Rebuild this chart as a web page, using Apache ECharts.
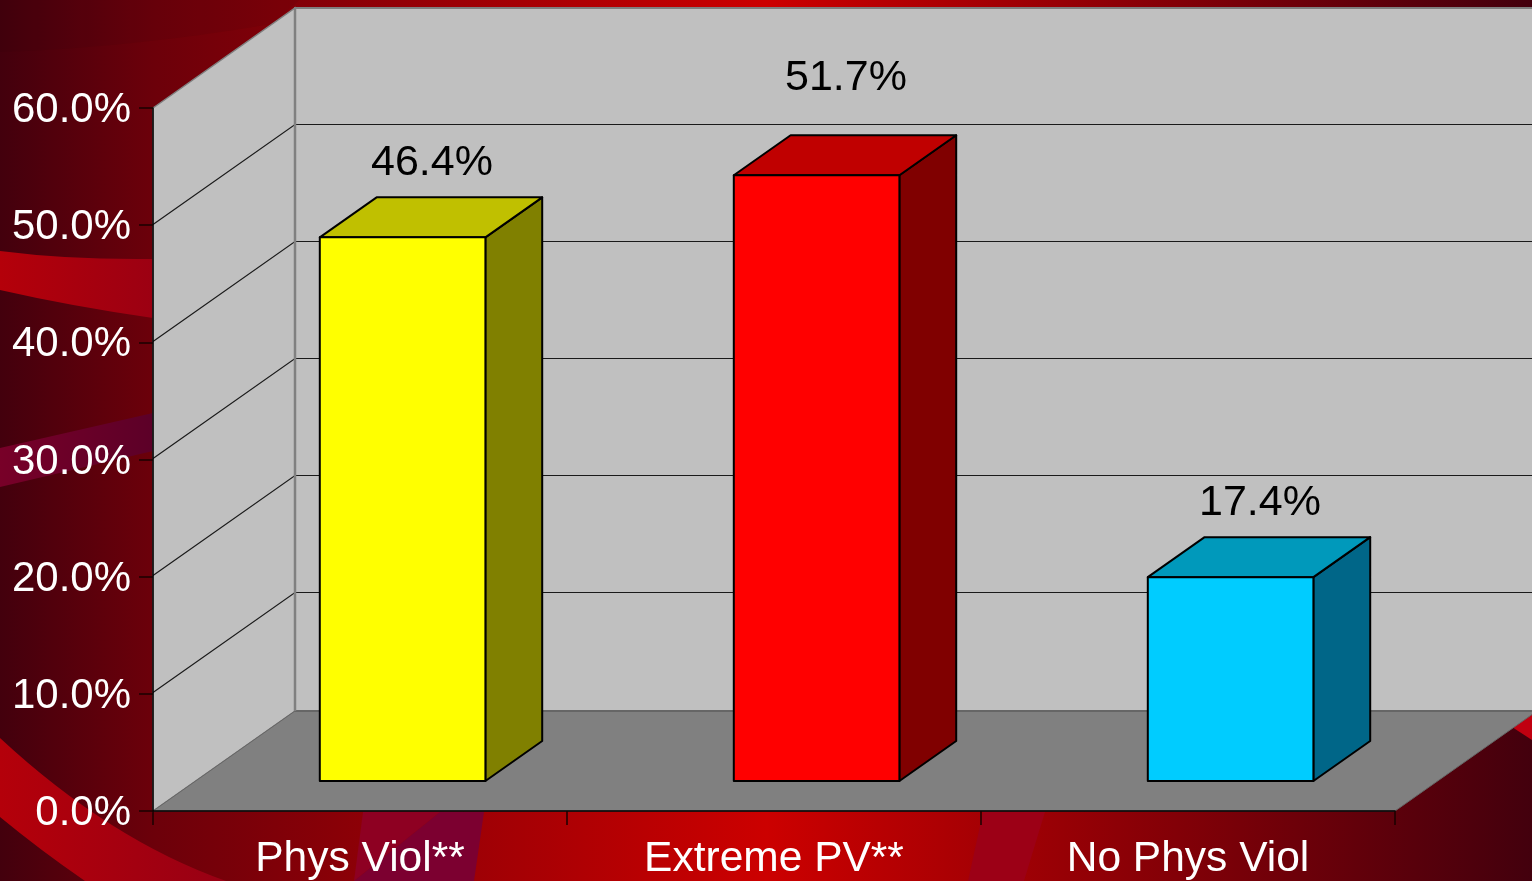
<!DOCTYPE html>
<html>
<head>
<meta charset="utf-8">
<title>Physical violence chart</title>
<script src="https://cdn.jsdelivr.net/npm/echarts@6/dist/echarts.min.js"></script>
<style>
  html, body { margin: 0; padding: 0; background: #43000d; overflow: hidden; }
  #chart { width: 1532px; height: 881px; }
</style>
</head>
<body>
<div id="chart"></div>
<script>
// data
const categories = ['Phys Viol**', 'Extreme PV**', 'No Phys Viol'];
const values = [46.4, 51.7, 17.4];
const yTicks = [0, 10, 20, 30, 40, 50, 60];

// bar colours: front, top, side
const frontColors = ['#ffff00', '#ff0000', '#00ccff'];
const topColors = ['#c0c000', '#c00000', '#0099bb'];
const sideColors = ['#808000', '#800000', '#006688'];

// 3d box depth
const DEPTH_X = 142;
const DEPTH_Y = -100;
const labelLift = [0, 23, 0];

const chart = echarts.init(document.getElementById('chart'));

// slide background swooshes
function renderBackground() {
    return {
        type: 'group',
        children: [
            {
                type: 'rect',
                shape: { x: 0, y: 0, width: 1532, height: 881 },
                style: {
                    fill: new echarts.graphic.LinearGradient(0, 0, 1, 0, [
                        { offset: 0, color: '#43000d' },
                        { offset: 0.1, color: '#6c000a' },
                        { offset: 0.5, color: '#cc0000' },
                        { offset: 1, color: '#43000d' }
                    ])
                }
            },
            {
                type: 'path',
                shape: { pathData: 'M0 0 L0 52 Q130 48 272 24 L300 0 Z' },
                style: { fill: 'rgba(40,0,10,0.08)' }
            },
            {
                type: 'path',
                shape: { pathData: 'M0 251 Q70 260 153 259 L153 318 Q70 306 0 290 Z' },
                style: {
                    fill: new echarts.graphic.LinearGradient(0, 0, 1, 0, [
                        { offset: 0, color: '#b4000a' },
                        { offset: 1, color: '#9c0012' }
                    ])
                }
            },
            {
                type: 'polygon',
                shape: { points: [[0, 448], [153, 413], [153, 451], [0, 487]] },
                style: {
                    fill: new echarts.graphic.LinearGradient(0, 0, 1, 0, [
                        { offset: 0, color: '#780028' },
                        { offset: 1, color: '#5c0028' }
                    ])
                }
            },
            {
                type: 'path',
                shape: { pathData: 'M0 738 Q110 840 226 881 L85 881 Q40 850 0 817 Z' },
                style: {
                    fill: new echarts.graphic.LinearGradient(0, 0, 1, 0, [
                        { offset: 0, color: '#b4000a' },
                        { offset: 1, color: '#980014' }
                    ])
                }
            },
            {
                type: 'polygon',
                shape: { points: [[363, 812], [440, 812], [354, 881]] },
                style: { fill: '#8e0022' }
            },
            {
                type: 'polygon',
                shape: { points: [[440, 812], [484, 812], [474, 881], [354, 881]] },
                style: { fill: '#7c0030' }
            },
            {
                type: 'polygon',
                shape: { points: [[983, 812], [1045, 812], [1024, 881], [968, 881]] },
                style: { fill: '#9c0016' }
            },
            {
                type: 'polygon',
                shape: { points: [[1532, 700], [1512, 727], [1532, 740]] },
                style: { fill: '#c00010' }
            }
        ]
    };
}

// walls and floor behind the bars
function renderWalls(params, api) {
    const cs = params.coordSys;
    const left = cs.x, right = cs.x + cs.width, top = cs.y, bottom = cs.y + cs.height;
    const backLeft = left + DEPTH_X, backRight = right + DEPTH_X;
    const children = [
        {
            type: 'polygon',
            shape: { points: [[left, top], [backLeft, top + DEPTH_Y], [backLeft, bottom + DEPTH_Y], [left, bottom]] },
            style: { fill: '#c0c0c0', stroke: '#808080', lineWidth: 1.5 }
        },
        {
            type: 'rect',
            shape: { x: backLeft, y: top + DEPTH_Y, width: cs.width, height: cs.height },
            style: { fill: '#c0c0c0', stroke: '#808080', lineWidth: 2 }
        },
        {
            type: 'polygon',
            shape: { points: [[left, bottom], [right, bottom], [backRight, bottom + DEPTH_Y], [backLeft, bottom + DEPTH_Y]] },
            style: { fill: '#808080', stroke: '#666666', lineWidth: 1 }
        },
        {
            type: 'line',
            shape: { x1: backLeft, y1: bottom + DEPTH_Y, x2: backRight, y2: bottom + DEPTH_Y },
            style: { stroke: '#666666', lineWidth: 2 }
        }
    ];
    yTicks.slice(1, -1).forEach(function (t) {
        const y = Math.floor(api.coord([0, t])[1]) - 0.5;
        children.push({
            type: 'polyline',
            shape: { points: [[left, y], [backLeft, y + DEPTH_Y], [backRight, y + DEPTH_Y]] },
            style: { fill: 'none', stroke: '#1a1a1a', lineWidth: 1.2 }
        });
    });
    // corner line goes over the gridline ends
    children.push({
        type: 'line',
        shape: { x1: backLeft, y1: top + DEPTH_Y, x2: backLeft, y2: bottom + DEPTH_Y },
        style: { stroke: '#808080', lineWidth: 2.5 }
    });
    return { type: 'group', children: children };
}

// one 3d bar, made from the axis scales
function renderBar(params, api) {
    const i = api.value(0);
    const v = api.value(1);
    const base = api.coord([i, 0]);
    const head = api.coord([i, v]);
    const band = api.size([1, 0])[0];
    const w = band * 0.4;
    const x0 = base[0] + DEPTH_X * 0.3 - w / 2;
    const x1 = x0 + w;
    const yb = base[1] + DEPTH_Y * 0.3;
    const yt = head[1] + DEPTH_Y * 0.3;
    const dx = DEPTH_X * 0.4;
    const dy = DEPTH_Y * 0.4;
    const border = { stroke: '#000000', lineWidth: 2, lineJoin: 'round' };
    return {
        type: 'group',
        children: [
            {
                type: 'polygon',
                shape: { points: [[x1, yt], [x1 + dx, yt + dy], [x1 + dx, yb + dy], [x1, yb]] },
                style: Object.assign({ fill: sideColors[i] }, border)
            },
            {
                type: 'polygon',
                shape: { points: [[x0, yt], [x0 + dx, yt + dy], [x1 + dx, yt + dy], [x1, yt]] },
                style: Object.assign({ fill: topColors[i] }, border)
            },
            {
                type: 'rect',
                shape: { x: x0, y: yt, width: w, height: yb - yt },
                style: Object.assign({ fill: frontColors[i] }, border)
            },
            {
                type: 'text',
                style: {
                    text: v.toFixed(1) + '%',
                    x: x0 + w / 2 + dx / 2 + 1,
                    y: yt + dy - 34 - labelLift[i],
                    fill: '#000000',
                    font: '43px "Liberation Sans"',
                    align: 'center',
                    verticalAlign: 'middle'
                }
            }
        ]
    };
}

chart.setOption({
    animation: false,
    textStyle: { fontFamily: '"Liberation Sans"' },
    grid: { left: 153, top: 108, width: 1242, height: 703, containLabel: false },
    xAxis: {
        type: 'category',
        data: categories,
        z: 5,
        axisLine: { lineStyle: { color: '#000000', width: 1.5 } },
        axisTick: { show: true, length: 14, lineStyle: { color: '#1a0000', width: 1.5 } },
        axisLabel: { color: '#ffffff', fontSize: 42.5, fontFamily: '"Liberation Sans"', margin: 27, interval: 0 },
        splitLine: { show: false }
    },
    yAxis: {
        type: 'value',
        min: 0,
        max: 60,
        interval: 10,
        z: 5,
        axisLine: { show: true, lineStyle: { color: '#000000', width: 1.5 } },
        axisTick: { show: true, length: 14, lineStyle: { color: '#1a0000', width: 1.5 } },
        axisLabel: {
            margin: 22,
            formatter: function (v) { return '{t|' + v.toFixed(1) + '%}'; },
            rich: {
                t: {
                    color: '#ffffff',
                    fontSize: 42,
                    fontFamily: '"Liberation Sans"',
                    padding: [5, 0, 0, 0]
                }
            }
        },
        splitLine: { show: false }
    },
    series: [
        {
            type: 'custom',
            name: 'background',
            z: 0,
            silent: true,
            renderItem: renderBackground,
            data: [[0, 0]]
        },
        {
            type: 'custom',
            name: 'walls',
            z: 1,
            silent: true,
            renderItem: renderWalls,
            data: [[0, 0]]
        },
        {
            type: 'custom',
            name: 'bars',
            z: 3,
            renderItem: renderBar,
            encode: { x: 0, y: 1 },
            data: values.map(function (v, i) { return [i, v]; })
        }
    ]
});
</script>
</body>
</html>
